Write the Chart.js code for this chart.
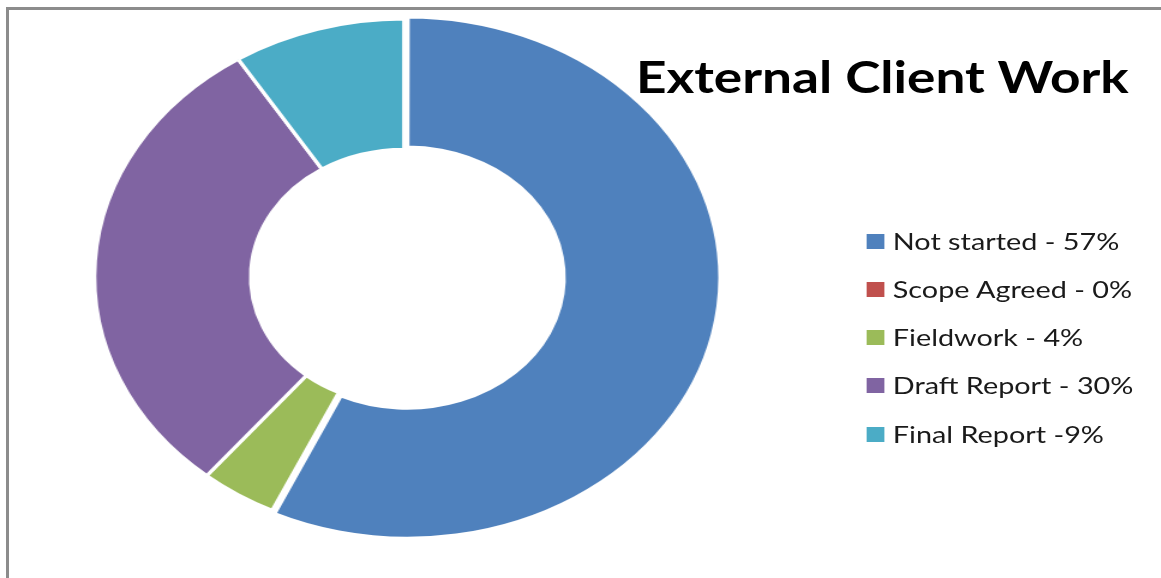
<!DOCTYPE html>
<html>
<head>
<meta charset="utf-8">
<script src="https://cdn.jsdelivr.net/npm/chart.js@4.4.1/dist/chart.umd.min.js"></script>
<style>
  html, body { margin: 0; padding: 0; background: #fff; overflow: hidden; }
  body { width: 1161px; height: 578px; position: relative; font-family: Lato, "Open Sans", sans-serif; }
  /* grey frame of the original picture (top and left edges only) */
  #frame { position: absolute; left: 6px; top: 7px; width: 1200px; height: 600px;
           border-top: 3px solid #8c8c8c; border-left: 3px solid #8c8c8c; }
  /* the source picture is stretched horizontally, so the whole stage is too */
  #stage { position: absolute; left: 0; top: 0; width: 968px; height: 578px;
           transform: scaleX(1.2); transform-origin: 0 0; }
  #chartBox { position: absolute; left: 0; top: 0; width: 968px; height: 578px; }
  #title { position: absolute; left: 530px; top: 49px; font-size: 44.3px; font-weight: 700;
           color: #000; white-space: nowrap; line-height: 1.2; }
  #legend { position: absolute; left: 722px; top: 0; }
  .item { position: absolute; left: 0; display: flex; align-items: center; height: 30px; white-space: nowrap; }
  .swatch { width: 15px; height: 15px; margin-right: 7px; }
  .label { font-size: 24px; color: #1a1a1a; line-height: 1.2; }
</style>
</head>
<body>
<div id="frame"></div>
<div id="stage">
  <div id="chartBox"><canvas id="donut"></canvas></div>
  <div id="title">External Client Work</div>
  <div id="legend"></div>
</div>
<script>
// data
const categories = ['Not started', 'Scope Agreed', 'Fieldwork', 'Draft Report', 'Final Report'];
const shares = [57, 0, 4, 30, 9];
const legendLabels = ['Not started - 57%', 'Scope Agreed - 0%', 'Fieldwork - 4%', 'Draft Report - 30%', 'Final Report -9%'];
const colors = ['#4F81BD', '#C0504D', '#9BBB59', '#8064A2', '#4BACC6'];
const explode = [11, 0, 0, 0, 0];

// legend (html, built from the arrays)
const legend = document.getElementById('legend');
const firstRow = 241, rowStep = 48.25;
legendLabels.forEach(function(text, i) {
    const row = document.createElement('div');
    row.className = 'item';
    row.style.top = (firstRow + i * rowStep - 15) + 'px';
    const sw = document.createElement('span');
    sw.className = 'swatch';
    sw.style.background = colors[i];
    const lb = document.createElement('span');
    lb.className = 'label';
    lb.textContent = text;
    row.appendChild(sw);
    row.appendChild(lb);
    legend.appendChild(row);
});

const ctx = document.getElementById('donut').getContext('2d');
new Chart(ctx, {
    type: 'doughnut',
    data: {
        labels: categories,
        datasets: [{
            data: shares,
            backgroundColor: colors,
            borderColor: '#ffffff',
            borderWidth: 3.2,
            offset: explode,
        }],
    },
    options: {
        responsive: true,
        maintainAspectRatio: false,
        animation: false,
        radius: 258,
        cutout: '49.5%',
        layout: {
            padding: { left: 0, top: 0, right: 294.6, bottom: 24 },
        },
        plugins: {
            legend: { display: false },
            title: { display: false },
            tooltip: { enabled: false },
        },
    },
});
</script>
</body>
</html>
